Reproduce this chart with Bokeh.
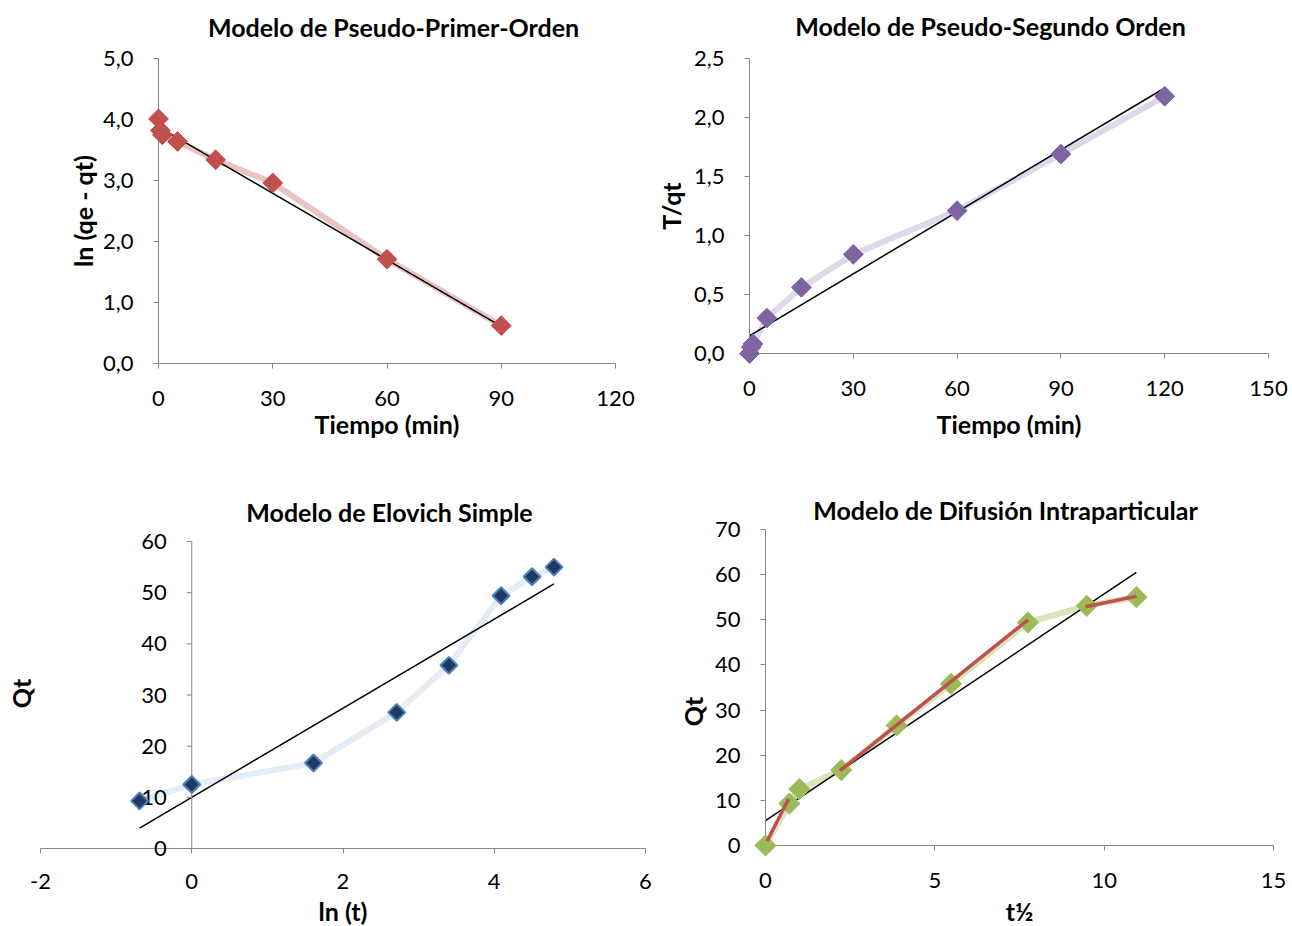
import numpy as np
from bokeh.plotting import figure
from bokeh.models import Range1d, FixedTicker, CustomJSTickFormatter
from bokeh.core.properties import value
from bokeh.layouts import column, row
from bokeh.embed import file_html
from bokeh.resources import INLINE

FONT = "Lato"

# ---------------- data ----------------
# Pseudo-primer-orden
pfo_t = [0, 0.5, 1, 5, 15, 30, 60, 90]
pfo_y = [4.01, 3.82, 3.75, 3.64, 3.34, 2.96, 1.71, 0.62]
pfo_fit_x = [0, 90]
pfo_fit_y = [3.88, 0.61]
pfo_xticks = [0, 30, 60, 90, 120]
pfo_yticks = [0, 1, 2, 3, 4, 5]

# Pseudo-segundo orden
pso_t = [0, 0.5, 1, 5, 15, 30, 60, 90, 120]
pso_y = [0.0, 0.054, 0.081, 0.30, 0.56, 0.84, 1.21, 1.69, 2.18]
pso_fit_x = [0, 120]
pso_fit_y = [0.15, 2.25]
pso_xticks = [0, 30, 60, 90, 120, 150]
pso_yticks = [0, 0.5, 1.0, 1.5, 2.0, 2.5]

# Elovich simple
elo_lnt = [-0.69, 0.0, 1.61, 2.71, 3.40, 4.09, 4.50, 4.79]
elo_qt = [9.3, 12.5, 16.7, 26.6, 35.8, 49.4, 53.1, 55.0]
elo_fit_x = [-0.69, 4.79]
elo_fit_y = [4.0, 51.7]
elo_xticks = [-2, 0, 2, 4, 6]
elo_yticks = [0, 10, 20, 30, 40, 50, 60]

# Difusion intraparticular
dif_sqrt_t = [0, 0.707, 1.0, 2.236, 3.873, 5.477, 7.746, 9.487, 10.954]
dif_qt = [0, 9.3, 12.5, 16.7, 26.6, 35.8, 49.4, 53.1, 55.0]
dif_fit_x = [0, 10.95]
dif_fit_y = [5.5, 60.5]
dif_seg1_x = [0.05, 0.68]
dif_seg1_y = [1.0, 10.3]
dif_seg2_x = [2.2, 7.75]
dif_seg2_y = [16.6, 50.0]
dif_seg3_x = [9.45, 10.95]
dif_seg3_y = [52.9, 55.2]
dif_xticks = [0, 5, 10, 15]
dif_yticks = [0, 10, 20, 30, 40, 50, 60, 70]

AXIS_COLOR = "#868686"
TICK_SIZE = "22px"
LABEL_SIZE = "25px"
TITLE_SIZE = "25px"


def make_fig(xr, yr, fw, fh, left, right, top, bottom, xticks, yticks,
             comma=False, xstand=22, ystand=20, xlab=None, ylab=None,
             xlab_stand=0, ylab_stand=2):
    p = figure(x_range=Range1d(*xr), y_range=Range1d(*yr),
               frame_width=fw, frame_height=fh,
               min_border_left=left, min_border_right=right,
               min_border_top=top, min_border_bottom=bottom,
               output_backend="svg", toolbar_location=None)
    p.xgrid.visible = False
    p.ygrid.visible = False
    p.outline_line_color = None
    p.background_fill_color = "white"
    p.border_fill_color = "white"
    for ax in (p.xaxis[0], p.yaxis[0]):
        ax.axis_line_color = AXIS_COLOR
        ax.axis_line_width = 1
        ax.major_tick_line_color = AXIS_COLOR
        ax.minor_tick_line_color = None
        ax.major_tick_in = 0
        ax.major_tick_out = 5
        ax.major_label_text_font = FONT
        ax.major_label_text_font_size = TICK_SIZE
        ax.major_label_text_color = "#000000"
        ax.axis_label_text_font = FONT
        ax.axis_label_text_font_size = LABEL_SIZE
        ax.axis_label_text_font_style = "bold"
        ax.axis_label_text_color = "#000000"
    p.xaxis[0].ticker = FixedTicker(ticks=xticks)
    p.yaxis[0].ticker = FixedTicker(ticks=yticks)
    p.xaxis[0].formatter = CustomJSTickFormatter(code="return String(tick);")
    p.xaxis[0].major_label_standoff = xstand
    p.yaxis[0].major_label_standoff = ystand
    if comma:
        p.yaxis[0].formatter = CustomJSTickFormatter(
            code="return tick.toFixed(1).replace('.', ',');")
    if xlab:
        p.xaxis[0].axis_label = xlab
        p.xaxis[0].axis_label_standoff = xlab_stand
    if ylab:
        p.yaxis[0].axis_label = ylab
        p.yaxis[0].axis_label_standoff = ylab_stand
    return p


def add_text(p, x, y, text, dx, dy, size, bold=True, angle=0.0, align="center"):
    p.text(x=[x], y=[y], text=[text], x_offset=dx, y_offset=dy, angle=angle,
           text_font=value(FONT), text_font_size=size,
           text_font_style="bold" if bold else "normal",
           text_align=align, text_baseline="middle", text_color="#000000",
           level="overlay")


# ---------- chart 1 ----------
x1, y1 = (0, 120), (0, 5)
p1 = make_fig(x1, y1, 457, 305, 158, 31, 58, 100, pfo_xticks, pfo_yticks,
              comma=True, xlab="Tiempo (min)", ylab="ln (qe - qt)",
              xstand=22, xlab_stand=0, ylab_stand=2)
p1.line(pfo_t, pfo_y, line_color="#E6B9B8", line_width=6, line_alpha=0.85)
p1.line(pfo_fit_x, pfo_fit_y, line_color="black", line_width=1.5)
p1.scatter(pfo_t, pfo_y, marker="square", angle=np.pi / 4, size=14,
           fill_color="#C0504D", line_color="#C0504D", level="overlay")
add_text(p1, x1[0], y1[1], "Modelo de Pseudo-Primer-Orden", 235, -32, TITLE_SIZE)

# ---------- chart 2 ----------
x2, y2 = (0, 150), (0, 2.5)
p2 = make_fig(x2, y2, 519, 295, 103, 24, 58, 110, pso_xticks, pso_yticks,
              comma=True, xlab="Tiempo (min)", ylab="T/qt",
              xstand=22, xlab_stand=10, ylab_stand=5)
p2.line(pso_t, pso_y, line_color="#DED8EA", line_width=6)
p2.line(pso_fit_x, pso_fit_y, line_color="black", line_width=1.5)
p2.scatter(pso_t, pso_y, marker="square", angle=np.pi / 4, size=14,
           fill_color="#8064A2", line_color="#8064A2", level="overlay")
add_text(p2, x2[0], y2[1], "Modelo de Pseudo-Segundo Orden", 241, -33, TITLE_SIZE)

# ---------- chart 3 ----------
# frame extends a little above the top tick so that the y axis (at x = 0) ends at 60
x3, y3 = (-2, 6), (0, 60 * 319 / 307)
p3 = make_fig(x3, y3, 605, 319, 40, 15, 66, 78, elo_xticks, elo_yticks,
              xstand=20, xlab="ln (t)", xlab_stand=4)
p3.yaxis[0].visible = False
p3.line(elo_lnt, elo_qt, line_color="#E4ECF6", line_width=6)
p3.line(elo_fit_x, elo_fit_y, line_color="black", line_width=1.5)
# y axis drawn at x = 0
p3.segment(x0=[0], y0=[elo_yticks[0]], x1=[0], y1=[elo_yticks[-1]],
           line_color=AXIS_COLOR, line_width=1)
p3.ray(x=[0] * len(elo_yticks), y=elo_yticks, length=5, length_units="screen",
       angle=np.pi, line_color=AXIS_COLOR, line_width=1, level="overlay")
p3.text(x=[0] * len(elo_yticks), y=elo_yticks, text=[str(v) for v in elo_yticks],
        x_offset=-25, text_align="right", text_baseline="middle",
        text_font=value(FONT), text_font_size=TICK_SIZE, text_color="#000000",
        level="overlay")
p3.scatter(elo_lnt, elo_qt, marker="square", angle=np.pi / 4, size=12,
           fill_color="#1F3A60", line_color="#4F81BD", line_width=2, level="overlay")
add_text(p3, x3[0], elo_yticks[-1], "Modelo de Elovich Simple", 349, -30, TITLE_SIZE)
add_text(p3, x3[0], y3[0], "Qt", -20, -155, LABEL_SIZE, angle=np.pi / 2)

# ---------- chart 4 ----------
x4, y4 = (0, 15), (0, 70)
p4 = make_fig(x4, y4, 508, 316, 105, 19, 66, 81, dif_xticks, dif_yticks,
              xstand=22, xlab="t½", xlab_stand=5)
p4.line(dif_sqrt_t, dif_qt, line_color="#D7E4BD", line_width=6)
p4.line(dif_fit_x, dif_fit_y, line_color="black", line_width=1.5)
p4.scatter(dif_sqrt_t, dif_qt, marker="square", angle=np.pi / 4, size=15,
           fill_color="#9BBB59", line_color="#9BBB59", level="overlay")
for sx, sy in ((dif_seg1_x, dif_seg1_y), (dif_seg2_x, dif_seg2_y), (dif_seg3_x, dif_seg3_y)):
    p4.line(sx, sy, line_color="#C0504D", line_width=3.5, level="overlay")
add_text(p4, x4[0], y4[1], "Modelo de Difusión Intraparticular", 240, -20, TITLE_SIZE)
add_text(p4, x4[0], y4[0], "Qt", -73, -134, LABEL_SIZE, angle=np.pi / 2)

layout = column(row(p1, p2), row(p3, p4))

open("out.html", "w").write(file_html(layout, INLINE))
